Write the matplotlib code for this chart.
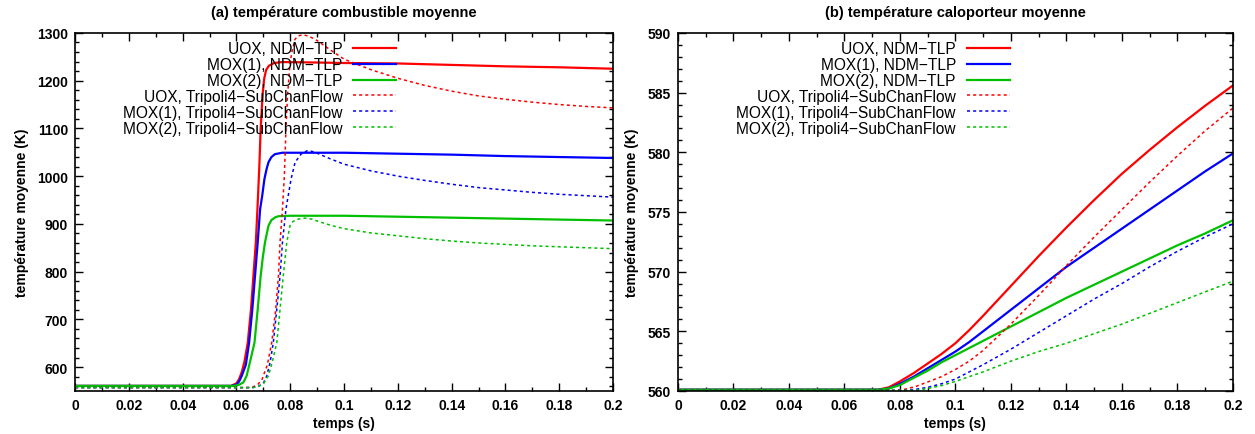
import numpy as np
import matplotlib.pyplot as plt
from matplotlib.ticker import MultipleLocator, AutoMinorLocator, FormatStrFormatter

plt.rcParams['font.family'] = ['Liberation Sans', 'DejaVu Sans']

# (a) température combustible moyenne -- NDM-TLP
t_uox_ndm = [0, 0.058, 0.060, 0.061, 0.062, 0.063, 0.0642, 0.0654, 0.0663, 0.0672, 0.0678, 0.0685,
             0.069, 0.0697, 0.0703, 0.071, 0.072, 0.074, 0.077, 0.09, 0.1, 0.12, 0.14, 0.16, 0.18, 0.2]
T_uox_ndm = [560.5, 560.5, 566, 575, 590, 612, 651, 721, 791, 861, 931, 1020,
             1099, 1170, 1204, 1222, 1231, 1237, 1239, 1238, 1237, 1236, 1233, 1230, 1228, 1225]

t_mox1_ndm = [0, 0.058, 0.060, 0.061, 0.062, 0.0635, 0.0647, 0.0659, 0.0669, 0.0679, 0.0688, 0.0696,
              0.0704, 0.0712, 0.0719, 0.073, 0.0743, 0.077, 0.09, 0.1, 0.12, 0.14, 0.16, 0.18, 0.2]
T_mox1_ndm = [560.5, 560.5, 563, 570, 582, 605, 651, 721, 791, 861, 931, 960,
              994, 1015, 1029, 1040, 1046, 1049, 1049, 1049, 1047, 1045, 1042, 1040, 1038]

t_mox2_ndm = [0, 0.059, 0.061, 0.0626, 0.0638, 0.065, 0.0667, 0.0679, 0.069, 0.0698, 0.0706, 0.0719,
              0.073, 0.0745, 0.0756, 0.08, 0.1, 0.12, 0.14, 0.16, 0.18, 0.2]
T_mox2_ndm = [560.5, 560.5, 563, 568, 582, 610, 651, 721, 791, 830, 861, 896,
              908, 914, 916, 917, 917, 915, 913, 911, 909, 907]

# (a) -- Tripoli4-SubChanFlow
t_uox_t4 = [0, 0.064, 0.066, 0.068, 0.0695, 0.070, 0.0715, 0.0731, 0.0746, 0.0756, 0.0762, 0.0771,
            0.0778, 0.0784, 0.079, 0.0799, 0.0808, 0.0818, 0.083, 0.0848, 0.087, 0.09, 0.095,
            0.1, 0.11, 0.12, 0.13, 0.14, 0.15, 0.16, 0.17, 0.18, 0.19, 0.2]
T_uox_t4 = [557, 557, 558, 564, 574, 582, 605, 651, 721, 791, 861, 931,
            1000, 1099, 1170, 1237, 1265, 1287, 1294, 1296, 1293, 1284, 1264,
            1245, 1223, 1205, 1190, 1178, 1168, 1161, 1155, 1150, 1146, 1143]

t_mox1_t4 = [0, 0.066, 0.068, 0.070, 0.0713, 0.0725, 0.0737, 0.075, 0.0762, 0.0771, 0.0784, 0.0803,
             0.0818, 0.084, 0.0862, 0.088, 0.09, 0.095, 0.1, 0.11, 0.12, 0.13, 0.14, 0.15,
             0.16, 0.17, 0.18, 0.19, 0.2]
T_mox1_t4 = [557, 557, 559, 566, 582, 610, 651, 721, 791, 861, 931, 994,
             1029, 1046, 1053, 1052, 1048, 1036, 1025, 1011, 1000, 991, 983, 976,
             971, 966, 962, 959, 956]

t_mox2_t4 = [0, 0.066, 0.068, 0.070, 0.0719, 0.0735, 0.075, 0.0762, 0.0774, 0.0787, 0.0799, 0.081,
             0.083, 0.0855, 0.088, 0.09, 0.095, 0.1, 0.11, 0.12, 0.13, 0.14, 0.15, 0.16,
             0.17, 0.18, 0.19, 0.2]
T_mox2_t4 = [557, 557, 559, 565, 582, 615, 651, 721, 791, 861, 896, 905,
             910, 912, 910, 906, 897, 890, 881, 875, 869, 864, 860, 857,
             854, 852, 850, 848]

# (b) température caloporteur moyenne
t_cool = [0, 0.072, 0.076, 0.08, 0.085, 0.09, 0.095, 0.1, 0.105, 0.11, 0.12, 0.13, 0.14, 0.15,
          0.16, 0.17, 0.18, 0.19, 0.2]
Tc_uox_ndm = [560.1, 560.1, 560.3, 560.8, 561.5, 562.3, 563.1, 564.0, 565.1, 566.3, 568.8, 571.3,
              573.7, 576.0, 578.2, 580.2, 582.1, 583.9, 585.6]
Tc_mox1_ndm = [560.1, 560.1, 560.2, 560.6, 561.2, 561.9, 562.6, 563.3, 564.1, 565.0, 566.8, 568.6,
               570.4, 572.0, 573.6, 575.2, 576.8, 578.4, 579.9]
Tc_mox2_ndm = [560.1, 560.1, 560.2, 560.5, 561.1, 561.7, 562.4, 563.0, 563.6, 564.2, 565.4, 566.6,
               567.8, 568.9, 570.0, 571.1, 572.2, 573.2, 574.3]

t_cool_t4 = [0, 0.078, 0.082, 0.086, 0.09, 0.095, 0.1, 0.105, 0.11, 0.12, 0.13, 0.14, 0.15,
             0.16, 0.17, 0.18, 0.19, 0.2]
Tc_uox_t4 = [560.05, 560.05, 560.15, 560.4, 560.75, 561.2, 561.8, 562.5, 563.4, 565.6, 568.0, 570.5,
             572.9, 575.2, 577.5, 579.7, 581.8, 583.7]
Tc_mox1_t4 = [560.05, 560.05, 560.05, 560.15, 560.3, 560.6, 561.0, 561.6, 562.2, 563.5, 564.9, 566.3,
              567.7, 569.0, 570.4, 571.7, 572.9, 574.0]
Tc_mox2_t4 = [560.05, 560.05, 560.05, 560.05, 560.2, 560.45, 560.8, 561.2, 561.6, 562.5, 563.3, 564.0,
              564.8, 565.6, 566.5, 567.4, 568.3, 569.2]

labels = ["UOX, NDM\u2212TLP", "MOX(1), NDM\u2212TLP", "MOX(2), NDM\u2212TLP",
          "UOX, Tripoli4\u2212SubChanFlow", "MOX(1), Tripoli4\u2212SubChanFlow",
          "MOX(2), Tripoli4\u2212SubChanFlow"]
colors = ["#ff0000", "#0000ff", "#00c000"]


def style_axes(ax, title, ymajor):
    ax.set_xlim(0, 0.2)
    ax.xaxis.set_major_locator(MultipleLocator(0.02))
    ax.xaxis.set_minor_locator(AutoMinorLocator(2))
    ax.xaxis.set_major_formatter(FormatStrFormatter('%g'))
    ax.yaxis.set_major_locator(MultipleLocator(ymajor))
    ax.yaxis.set_minor_locator(AutoMinorLocator(5))
    ax.tick_params(which='both', direction='in', top=True, right=True, width=1.0)
    ax.tick_params(which='major', length=6, labelsize=10, pad=5)
    ax.tick_params(which='minor', length=3)
    for lab in ax.get_xticklabels() + ax.get_yticklabels():
        lab.set_fontweight('bold')
    for sp in ax.spines.values():
        sp.set_linewidth(1.2)
    ax.set_title(title, fontsize=10.5, fontweight='bold', pad=12)
    ax.set_xlabel("temps (s)", fontsize=10, fontweight='bold', labelpad=3)
    ax.set_ylabel("température moyenne (K)", fontsize=10, fontweight='bold', labelpad=6)
    ax.legend(loc='upper right', bbox_to_anchor=(0.62, 1.012), frameon=False, markerfirst=False,
              fontsize=11.2, labelspacing=0.06, handlelength=2.75, handletextpad=0.7, borderpad=0.3)


fig = plt.figure(figsize=(12.55, 4.35), dpi=100)
ax1 = fig.add_axes([0.0598, 0.099, 0.4287, 0.823])
ax2 = fig.add_axes([0.5402, 0.099, 0.4422, 0.823])

# panneau (a)
for t, T, c, lab in zip([t_uox_ndm, t_mox1_ndm, t_mox2_ndm], [T_uox_ndm, T_mox1_ndm, T_mox2_ndm], colors, labels[:3]):
    ax1.plot(t, T, color=c, lw=1.6, label=lab)
for t, T, c, lab in zip([t_uox_t4, t_mox1_t4, t_mox2_t4], [T_uox_t4, T_mox1_t4, T_mox2_t4], colors, labels[3:]):
    ax1.plot(t, T, color=c, lw=1.1, ls=(0, (2, 2)), label=lab)
ax1.set_ylim(550, 1300)
style_axes(ax1, "(a) température combustible moyenne", 100)

# panneau (b)
for T, c, lab in zip([Tc_uox_ndm, Tc_mox1_ndm, Tc_mox2_ndm], colors, labels[:3]):
    ax2.plot(t_cool, T, color=c, lw=1.6, label=lab)
for T, c, lab in zip([Tc_uox_t4, Tc_mox1_t4, Tc_mox2_t4], colors, labels[3:]):
    ax2.plot(t_cool_t4, T, color=c, lw=1.1, ls=(0, (2, 2)), label=lab)
ax2.set_ylim(560, 590)
style_axes(ax2, "(b) température caloporteur moyenne", 5)

fig.savefig("out.png", dpi=100)
